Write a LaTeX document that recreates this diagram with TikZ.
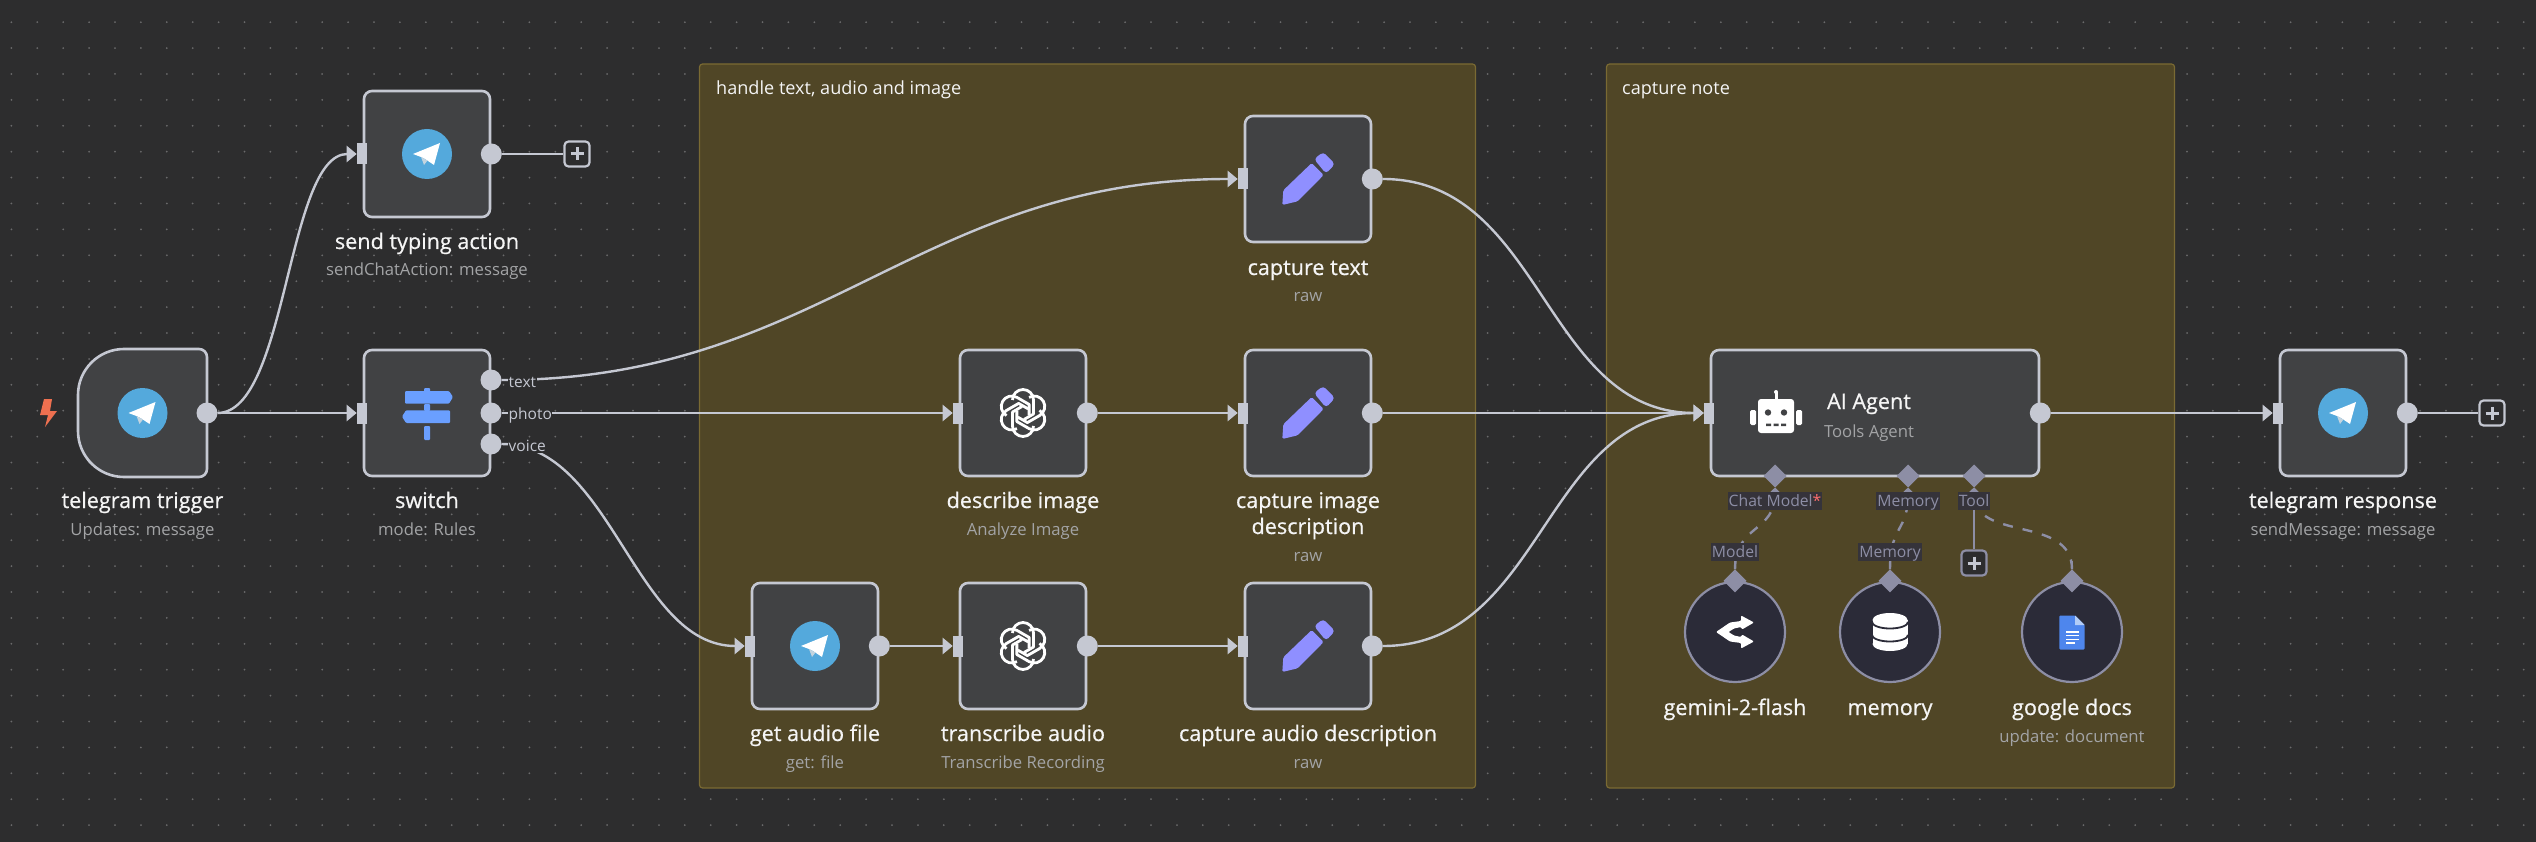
\documentclass[tikz,border=0pt]{standalone}
\usepackage{fontspec}
\setmainfont{Open Sans}
\newfontfamily\titlefont[FakeBold=0.6]{Open Sans}
\usetikzlibrary{calc,arrows.meta,shapes.geometric}
\definecolor{canvas}{HTML}{2D2D2E}
\definecolor{griddot}{HTML}{6A6A6B}
\definecolor{groupfill}{HTML}{504626}
\definecolor{groupline}{HTML}{7A6A33}
\definecolor{boxfill}{HTML}{414244}
\definecolor{wirecol}{HTML}{C5C8D2}
\definecolor{auxcol}{HTML}{8D8EA5}
\definecolor{subcol}{HTML}{A3A4A6}
\definecolor{titlecol}{HTML}{F5F5F5}
\definecolor{tgblue}{HTML}{54A9DC}
\definecolor{signblue}{HTML}{6A9FFF}
\definecolor{penviolet}{HTML}{8F8FFF}
\definecolor{circlefill}{HTML}{2B2B38}
\definecolor{labelbg}{HTML}{35333A}
\definecolor{boltcol}{HTML}{EE7050}
\definecolor{docblue}{HTML}{4E86ED}
\definecolor{docfold}{HTML}{B3CDF7}
\tikzset{
  nodebox/.style={draw=wirecol,fill=boxfill,line width=2.6pt,rounded corners=8pt,minimum width=126pt,minimum height=126pt,inner sep=0pt,outer sep=1.3pt},
  inport/.style={fill=wirecol,minimum width=10pt,minimum height=21pt,inner sep=0pt,outer sep=0pt},
  outport/.style={circle,fill=wirecol,minimum size=21pt,inner sep=0pt,outer sep=0pt},
  wire/.style={draw=wirecol,line width=2.4pt},
  wirearrow/.style={wire,-{Triangle[length=10pt,width=16pt]}},
  auxwire/.style={draw=auxcol,line width=2.4pt,dash pattern=on 10pt off 10pt},
  auxtip/.style={-{Triangle[length=7pt,width=14pt]}},
  auxdia/.style={diamond,aspect=1,fill=auxcol,minimum width=23pt,minimum height=23pt,inner sep=0pt,outer sep=0pt},
  title/.style={text=titlecol,font=\titlefont\fontsize{21.6}{26}\selectfont,align=center,inner sep=0pt,text height=17pt,text depth=5pt,yshift=-2pt},
  subtitle/.style={text=subcol,font=\fontsize{16.7}{20}\selectfont,inner sep=0pt,text height=14pt,text depth=4pt,yshift=-3pt},
  portlabel/.style={text=wirecol,font=\fontsize{15.5}{19}\selectfont,fill=canvas,inner sep=0.5pt,text height=13pt,text depth=1pt},
  auxlabel/.style={text=auxcol,fill=labelbg,font=\fontsize{15.7}{19}\selectfont,inner sep=1pt,text height=13pt,text depth=3pt},
  grouplabel/.style={text=titlecol,font=\fontsize{18.1}{22}\selectfont,inner sep=0pt,anchor=west,text height=13pt,text depth=4pt,yshift=-3pt},
  groupbox/.style={draw=groupline,fill=groupfill,line width=1.2pt,rounded corners=3pt,inner sep=0pt},
  plusbox/.style={draw=#1,fill=canvas,line width=2.2pt,rounded corners=4pt,minimum size=25pt,inner sep=0pt,outer sep=1.1pt},
  roundnode/.style={circle,draw=auxcol,fill=circlefill,line width=2.2pt,minimum size=100pt,inner sep=0pt,outer sep=1.1pt},
}
\newcommand\stdnode[3]{%
  \node[nodebox] (#1) at (#2,#3) {};
  \node[inport] (#1-i) at ($(#1.west)+(-1,0)$) {};
  \node[outport] (#1-o) at (#1.east) {};
}
\newcommand\conn[3]{\draw[wirearrow] (#1) .. controls ($(#1)+(#3,0)$) and ($(#2)-(#3,0)$) .. (#2);}
\newcommand\plusmark[2]{\draw[#2,line width=3pt] ($(#1)+(-6.5,0)$) -- ($(#1)+(6.5,0)$) ($(#1)+(0,-6.5)$) -- ($(#1)+(0,6.5)$);}
\newcommand\tgicon[1]{\begin{scope}[shift={(#1)}]
  \fill[tgblue] (0,0) circle (25);
  \fill[white] (13,-11) -- (-14,0) -- (-6,3) -- (-2,5) -- (7,11) -- cycle;
  \fill[white!75!tgblue!80!gray] (-6,3) -- (-3,11) -- (0.5,6.5) -- cycle;
\end{scope}}
\newcommand\penicon[1]{\begin{scope}[shift={(#1)}]
  \fill[penviolet,rounded corners=1.5pt] (3.7,-16) -- (15.7,-4) -- (-10.3,22.3) -- (-25.7,26) -- (-24.7,11.3) -- cycle;
  \fill[penviolet,rounded corners=3.5pt] (6,-20) -- (15.3,-27) -- (27,-15) -- (18,-5.3) -- cycle;
\end{scope}}
\newcommand\aiknot[1]{\begin{scope}[shift={(#1)}]
  \foreach \a in {0,60,...,300}{
    \draw[white,line width=2.8pt,line join=round,rotate=\a]
      (-10.5,-13) arc[start angle=180,end angle=360,radius=10.5] -- (10.5,1) -- (1,6.5);
  }
\end{scope}}
\newcommand\signicon[1]{\begin{scope}[shift={(#1)}]
  \fill[signblue,rounded corners=1pt] (-22,-22) -- (22,-22) -- (26,-16) -- (22,-9.3) -- (-22,-9.3) -- cycle;
  \fill[signblue,rounded corners=1pt] (-21,-2.7) -- (23,-2.7) -- (23,10) -- (-21,10) -- (-25,3.6) -- cycle;
  \fill[signblue,rounded corners=1pt] (-3,-25) rectangle (3,-21);
  \fill[signblue,rounded corners=1pt] (-3,-9) rectangle (3,-2);
  \fill[signblue,rounded corners=1pt] (-3,13) rectangle (3,27);
\end{scope}}
\newcommand\roboticon[1]{\begin{scope}[shift={(#1)}]
  \fill[white,rounded corners=3pt] (-18,-16) rectangle (18,18);
  \fill[white] (-1.5,-23) rectangle (1.5,-15);
  \fill[white] (0,-23) circle (2);
  \fill[white,rounded corners=1.5pt] (-26,-5) rectangle (-20,10);
  \fill[white,rounded corners=1.5pt] (20,-5) rectangle (26,10);
  \fill[boxfill] (-8,-2.5) circle (3.2) (8,-2.5) circle (3.2);
  \fill[boxfill] (-10,8.5) rectangle (-5,11) (-2.5,8.5) rectangle (2.5,11) (5,8.5) rectangle (10,11);
\end{scope}}
\newcommand\geminicon[1]{\begin{scope}[shift={(#1)}]
  \fill[white,rounded corners=1pt] (-19,0) -- (-5,-9.5) -- (6,-11) -- (6,-16.5) -- (19,-9.5) -- (7,-2.5) -- (6,-5) -- (-1,-3.5) -- (-6.5,0)
     -- (-1,3.5) -- (6,5) -- (7,2.5) -- (19,9.5) -- (6,16.5) -- (6,11) -- (-5,9.5) -- cycle;
\end{scope}}
\newcommand\dbicon[1]{\begin{scope}[shift={(#1)}]
  \fill[white] (0,-12) ellipse[x radius=17.5,y radius=7];
  \fill[white] (0,12) ellipse[x radius=17.5,y radius=7];
  \fill[white] (-17.5,-12) rectangle (17.5,12);
  \draw[circlefill,line width=1.8pt] (-18,-10) arc[start angle=180,end angle=0,x radius=18,y radius=6.5];
  \draw[circlefill,line width=1.8pt] (-18,3) arc[start angle=180,end angle=0,x radius=18,y radius=6.5];
\end{scope}}
\newcommand\docicon[1]{\begin{scope}[shift={(#1)}]
  \fill[docblue,rounded corners=1pt] (-12.7,-16.5) -- (3,-16.5) -- (12.7,-6.8) -- (12.7,17.5) -- (-12.7,17.5) -- cycle;
  \fill[docfold] (3,-16.5) -- (12.7,-6.8) -- (3,-6.8) -- cycle;
  \draw[white,line width=1.1pt] (-6,0) -- (6.5,0) (-6,3.7) -- (6.5,3.7) (-6,7.4) -- (6.5,7.4) (-6,11) -- (2.5,11);
\end{scope}}
\begin{document}
\begin{tikzpicture}[x=1pt,y=-1pt]
\useasboundingbox (0,0) rectangle (2536,842);
\fill[canvas] (0,0) rectangle (2536,842);
\foreach \i in {0,...,97}{\foreach \j in {0,...,31}{
  \fill[griddot] ({11.4+25.9*\i},{22.2+25.9*\j}) circle (1);
}}
\node[groupbox,minimum width=776pt,minimum height=724pt] (g1) at (1087.5,426) {};
\node[groupbox,minimum width=568pt,minimum height=724pt] (g2) at (1890.5,426) {};
\node[grouplabel] (g1-l) at (716,87) {handle text, audio and image};
\node[grouplabel] (g2-l) at (1622,87) {capture note};

\node[minimum width=129pt,minimum height=128pt,inner sep=0pt,outer sep=0pt] (tt) at (142.5,413) {};
\draw[draw=wirecol,fill=boxfill,line width=2.6pt,rounded corners=8pt] (tt.north east) -- (tt.south east) [rounded corners=46pt] -- (tt.south west) -- (tt.north west) [rounded corners=8pt] -- cycle;
\node[outport] (tt-o) at (tt.east) {};
\node[title] (tt-t) at (142.5,500) {telegram trigger};
\node[subtitle] (tt-s) at (142.5,527) {Updates: message};
\tgicon{tt}
\fill[boltcol] (44,399) -- (52,399) -- (50,411) -- (57,411) -- (45,427) -- (48,415) -- (40,415) -- cycle;

\stdnode{st}{427}{154}
\node[title] (st-t) at (427,241) {send typing action};
\node[subtitle] (st-s) at (427,268) {sendChatAction: message};
\tgicon{st}
\node[plusbox=wirecol] (st-p) at (577,154) {};
\plusmark{st-p}{wirecol}

\node[nodebox] (sw) at (427,413) {};
\node[inport] (sw-i) at ($(sw.west)+(-1,0)$) {};
\node[outport] (sw-o1) at (491,380) {};
\node[outport] (sw-o2) at (491,413) {};
\node[outport] (sw-o3) at (491,444) {};
\node[title] (sw-t) at (427,500) {switch};
\node[subtitle] (sw-s) at (427,527) {mode: Rules};
\signicon{sw}

\stdnode{ct}{1308}{179}
\node[title] (ct-t) at (1308,267) {capture text};
\node[subtitle] (ct-s) at (1308,294) {raw};
\penicon{ct}
\stdnode{di}{1023}{413}
\node[title] (di-t) at (1023,500) {describe image};
\node[subtitle] (di-s) at (1023,527) {Analyze Image};
\aiknot{di}
\stdnode{ci}{1308}{413}
\node[title] (ci-t) at (1308,500) {capture image};
\node[title] (ci-t2) at (1308,526) {description};
\node[subtitle] (ci-s) at (1308,553) {raw};
\penicon{ci}
\stdnode{ga}{815}{646}
\node[title] (ga-t) at (815,733) {get audio file};
\node[subtitle] (ga-s) at (815,760) {get: file};
\tgicon{ga}
\stdnode{ta}{1023}{646}
\node[title] (ta-t) at (1023,733) {transcribe audio};
\node[subtitle] (ta-s) at (1023,760) {Transcribe Recording};
\aiknot{ta}
\stdnode{ca}{1308}{646}
\node[title] (ca-t) at (1308,733) {capture audio description};
\node[subtitle] (ca-s) at (1308,760) {raw};
\penicon{ca}

\node[nodebox,minimum width=328pt] (ag) at (1875,413) {};
\node[inport] (ag-i) at ($(ag.west)+(-1,0)$) {};
\node[outport] (ag-o) at (ag.east) {};
\node[title] (ag-t) at (1869,401) {AI Agent};
\node[subtitle] (ag-s) at (1869,429) {Tools Agent};
\roboticon{1776,415}
\node[auxdia] (ag-d1) at (1775,476) {};
\node[auxdia] (ag-d2) at (1908,476) {};
\node[auxdia] (ag-d3) at (1974,476) {};

\node[roundnode] (gm) at (1735,632) {};
\node[auxdia] (gm-d) at (gm.north) {};
\geminicon{gm}
\node[title] (gm-t) at (1735,707) {gemini-2-flash};
\node[roundnode] (mm) at (1890,632) {};
\node[auxdia] (mm-d) at (mm.north) {};
\dbicon{mm}
\node[title] (mm-t) at (1890,707) {memory};
\node[roundnode] (gd) at (2072,632) {};
\node[auxdia] (gd-d) at (gd.north) {};
\docicon{gd}
\node[title] (gd-t) at (2072,707) {google docs};
\node[subtitle] (gd-s) at (2072,734) {update: document};
\node[plusbox=auxcol] (ag-p) at (1974,563) {};
\plusmark{ag-p}{wirecol}

\stdnode{tr}{2343}{413}
\node[title] (tr-t) at (2343,500) {telegram response};
\node[subtitle] (tr-s) at (2343,527) {sendMessage: message};
\tgicon{tr}
\node[plusbox=wirecol] (tr-p) at (2492,413) {};
\plusmark{tr-p}{wirecol}

\conn{tt-o.east}{st-i.west}{70}
\draw[wirearrow] (tt-o.east) -- (sw-i.west);
\draw[wire] (st-o.east) -- (st-p.west);
\draw[wire] (tr-o.east) -- (tr-p.west);
\conn{sw-o1.east}{ct-i.west}{320}
\draw[wirearrow] (sw-o2.east) -- (di-i.west);
\conn{sw-o3.east}{ga-i.west}{110}
\draw[wirearrow] (di-o.east) -- (ci-i.west);
\draw[wirearrow] (ga-o.east) -- (ta-i.west);
\draw[wirearrow] (ta-o.east) -- (ca-i.west);
\conn{ct-o.east}{ag-i.west}{160}
\draw[wirearrow] (ci-o.east) -- (ag-i.west);
\conn{ca-o.east}{ag-i.west}{160}
\draw[wirearrow] (ag-o.east) -- (tr-i.west);
\node[portlabel,anchor=west] (sw-l1) at (508,381) {text};
\node[portlabel,anchor=west] (sw-l2) at (508,413) {photo};
\node[portlabel,anchor=west] (sw-l3) at (508,445) {voice};

\draw[auxwire,auxtip] (gm-d.north) .. controls ($(gm-d.north)+(0,-45)$) and ($(ag-d1.south)+(0,45)$) .. (ag-d1.south);
\draw[auxwire,auxtip] (mm-d.north) .. controls ($(mm-d.north)+(0,-45)$) and ($(ag-d2.south)+(0,45)$) .. (ag-d2.south);
\draw[auxwire,auxtip] (gd-d.north) .. controls ($(gd-d.north)+(0,-55)$) and ($(ag-d3.south)+(0,55)$) .. (ag-d3.south);
\draw[draw=auxcol,line width=2.4pt,auxtip] (ag-p.north) -- (ag-d3.south);
\draw[draw=auxcol,line width=2.4pt] (gm-d.north) -- ($(gm-d.north)+(0,-14)$);
\draw[draw=auxcol,line width=2.4pt] (mm-d.north) -- ($(mm-d.north)+(0,-14)$);
\draw[draw=auxcol,line width=2.4pt] (gd-d.north) -- ($(gd-d.north)+(0,-8)$);
\node[auxlabel] (ag-l1) at (1775,501) {Chat Model\textcolor[HTML]{FF6D6D}{*}};
\node[auxlabel] (ag-l2) at (1908,501) {Memory};
\node[auxlabel] (ag-l3) at (1974,501) {Tool};
\node[auxlabel] (gm-l) at (1735,552) {Model};
\node[auxlabel] (mm-l) at (1890,552) {Memory};
\end{tikzpicture}
\end{document}
